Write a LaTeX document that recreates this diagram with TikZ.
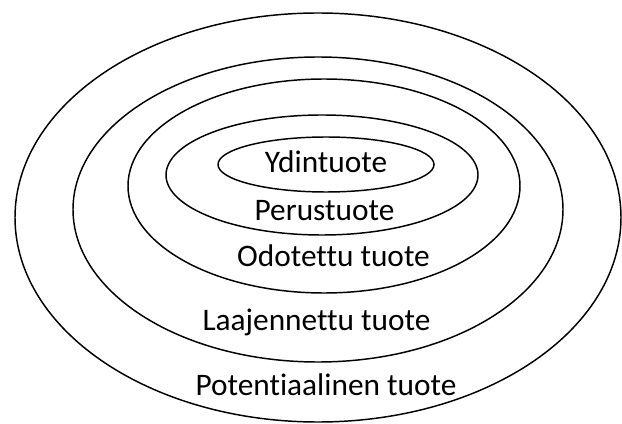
\documentclass[tikz,border=0pt]{standalone}
\usepackage{fontspec}
\setmainfont[Ligatures=NoCommon]{Carlito}
\usepackage{xcolor}
\definecolor{plink}{HTML}{000000}
\definecolor{plbg}{HTML}{FFFFFF}
\usepackage{tikz}
\usetikzlibrary{positioning}
\tikzset{
  plring/.style ={draw=plink, line width=1.1pt},
  pllbl/.style  ={font=\fontsize{23.5}{28}\selectfont, text=plink,
                  inner sep=0pt, anchor=base},
}

\begin{document}
\begin{tikzpicture}[x=0.75pt, y=-0.75pt]
  \fill[plbg] (0,0) rectangle (622,424);
  \useasboundingbox (0,0) rectangle (622,424);
  \foreach \cx/\cy/\rx/\ry in {
      318/217.5/303/204.5,
      318/209.5/245/152.5,
      324/186/196/107,
      322/175/156/60,
      326/164.5/108/27.5}{
    \draw[plring] (\cx,\cy) ellipse [x radius=\rx, y radius=\ry];
  }
  \node[pllbl] (core)      at (326,173)   {Ydintuote};
  \node[pllbl] (basic)     at (324.5,221) {Perustuote};
  \node[pllbl] (expected)  at (333.5,267) {Odotettu tuote};
  \node[pllbl] (augmented) at (316.5,330) {Laajennettu tuote};
  \node[pllbl] (potential) at (326,396)   {Potentiaalinen tuote};
\end{tikzpicture}
\end{document}
